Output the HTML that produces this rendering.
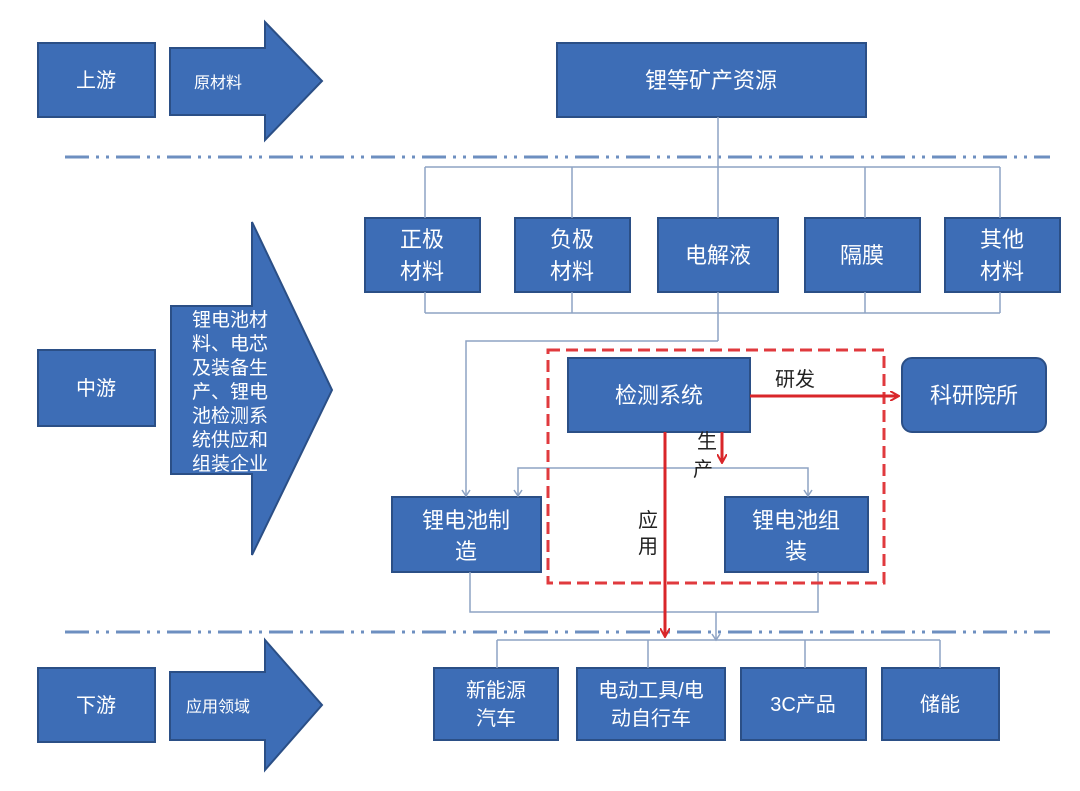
<!DOCTYPE html>
<html><head><meta charset="utf-8"><style>
html,body{margin:0;padding:0;background:#fff;}
svg{display:block;}
text{font-family:"Liberation Sans","Noto Sans CJK SC",sans-serif;fill:#fff;}
</style></head><body>
<svg width="1080" height="791" viewBox="0 0 1080 791" xmlns="http://www.w3.org/2000/svg">
<defs>
<marker id="ra" markerWidth="10" markerHeight="10" refX="8" refY="5" orient="auto" markerUnits="userSpaceOnUse"><path d="M0,0 L9,5 L0,10" fill="none" stroke="#d9262a" stroke-width="2"/></marker>
</defs>
<g fill="#3d6db6" stroke="#2b4f86" stroke-width="2">
<rect x="38" y="43" width="117" height="74"/>
<rect x="38" y="350" width="117" height="76"/>
<rect x="38" y="668" width="117" height="74"/>
<polygon points="170,48 265,48 265,22 322,81 265,140 265,115 170,115"/>
<polygon points="171,306 252,306 252,222 332,390 252,555 252,474 171,474"/>
<polygon points="170,672 265,672 265,640 322,705 265,770 265,740 170,740"/>
<rect x="557" y="43" width="309" height="74"/>
<rect x="365" y="218" width="115" height="74"/>
<rect x="515" y="218" width="115" height="74"/>
<rect x="658" y="218" width="120" height="74"/>
<rect x="805" y="218" width="115" height="74"/>
<rect x="945" y="218" width="115" height="74"/>
<rect x="568" y="358" width="182" height="74"/>
<rect x="902" y="358" width="144" height="74" rx="10"/>
<rect x="392" y="497" width="149" height="75"/>
<rect x="725" y="497" width="143" height="75"/>
<rect x="434" y="668" width="124" height="72"/>
<rect x="577" y="668" width="148" height="72"/>
<rect x="741" y="668" width="125" height="72"/>
<rect x="882" y="668" width="117" height="72"/>
</g>
<g stroke="#6d8fc0" stroke-width="3" stroke-dasharray="24,7,3,7,3,7">
<line x1="65" y1="157" x2="1050" y2="157"/>
<line x1="65" y1="632" x2="1050" y2="632"/>
</g>
<g stroke="#8ea3c4" stroke-width="1.5" fill="none">
<line x1="718" y1="117" x2="718" y2="167"/>
<line x1="425" y1="167" x2="1000" y2="167"/>
<line x1="425" y1="167" x2="425" y2="218"/><line x1="572" y1="167" x2="572" y2="218"/>
<line x1="718" y1="167" x2="718" y2="218"/><line x1="865" y1="167" x2="865" y2="218"/><line x1="1000" y1="167" x2="1000" y2="218"/>
<line x1="425" y1="313" x2="1000" y2="313"/>
<line x1="425" y1="292" x2="425" y2="313"/><line x1="572" y1="292" x2="572" y2="313"/>
<line x1="718" y1="292" x2="718" y2="341"/><line x1="865" y1="292" x2="865" y2="313"/><line x1="1000" y1="292" x2="1000" y2="313"/>
<polyline points="718,341 466,341 466,496"/>
<polyline points="518,496 518,468 808,468 808,496"/>
<polyline points="470,572 470,612 818,612 818,572"/>
<line x1="716" y1="612" x2="716" y2="640"/>
<line x1="497" y1="640" x2="940" y2="640"/>
<line x1="497" y1="640" x2="497" y2="668"/><line x1="648" y1="640" x2="648" y2="668"/>
<line x1="805" y1="640" x2="805" y2="668"/><line x1="940" y1="640" x2="940" y2="668"/>
<path d="M462,490 L466,496 L470,490 M514,490 L518,496 L522,490 M804,490 L808,496 L812,490 M712,634 L716,640 L720,634"/>
</g>
<rect x="548" y="350" width="336" height="233" fill="none" stroke="#e03a3e" stroke-width="3" stroke-dasharray="12,6"/>
<g stroke="#d9262a" stroke-width="3" fill="none">
<line x1="750" y1="396" x2="898" y2="396" marker-end="url(#ra)"/>
<line x1="722" y1="432" x2="722" y2="462" marker-end="url(#ra)"/>
<line x1="665" y1="432" x2="665" y2="636" marker-end="url(#ra)"/>
</g>
<g font-size="20" text-anchor="middle">
<text x="96" y="87">上游</text>
<text x="96" y="395">中游</text>
<text x="96" y="712">下游</text>
<text x="218" y="88" font-size="16">原材料</text>
<text x="218" y="712" font-size="16">应用领域</text>
<text x="711" y="88" font-size="22">锂等矿产资源</text>
<text x="422" y="247" font-size="22">正极</text><text x="422" y="279" font-size="22">材料</text>
<text x="572" y="247" font-size="22">负极</text><text x="572" y="279" font-size="22">材料</text>
<text x="718" y="263" font-size="22">电解液</text>
<text x="862" y="263" font-size="22">隔膜</text>
<text x="1002" y="247" font-size="22">其他</text><text x="1002" y="279" font-size="22">材料</text>
<text x="659" y="403" font-size="22">检测系统</text>
<text x="974" y="403" font-size="22">科研院所</text>
<text x="466" y="528" font-size="22">锂电池制</text><text x="466" y="559" font-size="22">造</text>
<text x="796" y="528" font-size="22">锂电池组</text><text x="796" y="559" font-size="22">装</text>
<text x="496" y="697">新能源</text><text x="496" y="725">汽车</text>
<text x="651" y="697">电动工具/电</text><text x="651" y="725">动自行车</text>
<text x="803" y="711">3C产品</text>
<text x="940" y="711">储能</text>
</g>
<g font-size="19" text-anchor="start">
<text x="192" y="326">锂电池材</text>
<text x="192" y="350">料、电芯</text>
<text x="192" y="374">及装备生</text>
<text x="192" y="398">产、锂电</text>
<text x="192" y="422">池检测系</text>
<text x="192" y="446">统供应和</text>
<text x="192" y="470">组装企业</text>
</g>
<g font-size="20">
<text x="775" y="386" style="fill:#222">研发</text>
<text x="697" y="448" style="fill:#222">生</text>
<text x="693" y="476" style="fill:#222">产</text>
<text x="638" y="527" style="fill:#222">应</text>
<text x="638" y="553" style="fill:#222">用</text>
</g>
</svg>
</body></html>
